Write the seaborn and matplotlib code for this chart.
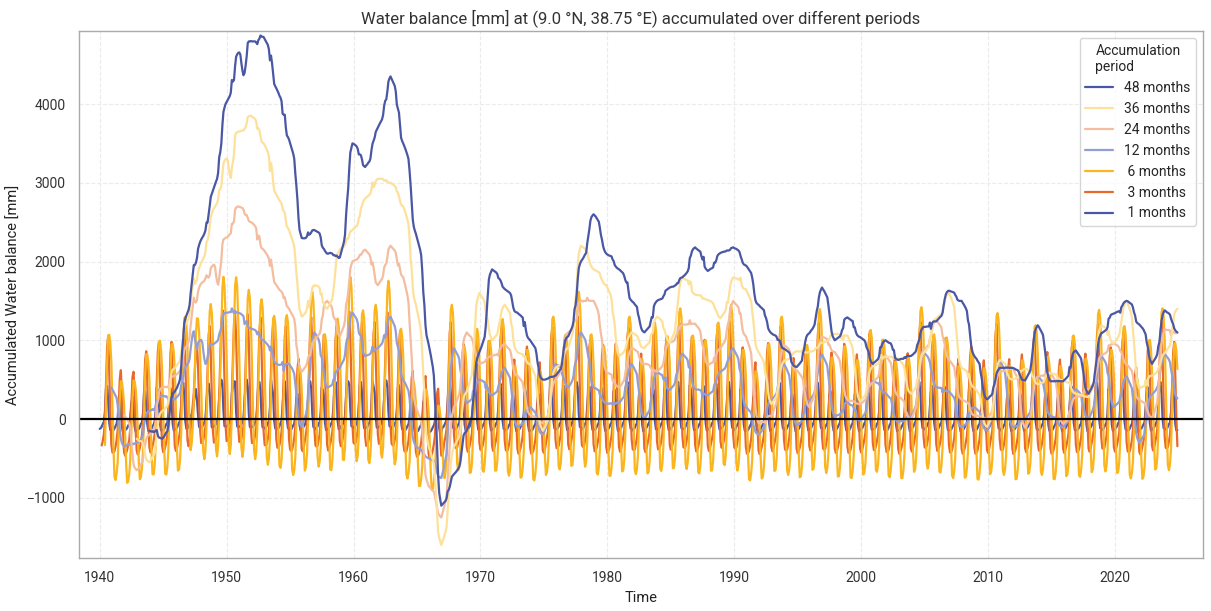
import numpy as np
import pandas as pd
import matplotlib
matplotlib.use('Agg')
import matplotlib.pyplot as plt
import matplotlib.dates as mdates
import seaborn as sns

# Monthly water balance (P - PET) in mm, one row per year, Jan..Dec
wb_1940s = [
    [-125, -115, -95, -60, -35, 100, 390, 420, 245, -50, -140, -135],
    [-150, -140, -120, -90, -60, 10, 230, 270, 120, -100, -165, -155],
    [-145, -130, -115, -80, -70, 40, 200, 290, 110, -90, -160, -150],
    [-140, -125, -100, -60, -45, 70, 330, 350, 180, -65, -150, -145],
    [-130, -120, -90, -70, -30, 110, 400, 350, 220, -55, -145, -140],
    [-135, -125, -95, -65, -45, 80, 380, 390, 210, -60, -145, -140],
    [-120, -110, -80, -50, -20, 170, 420, 460, 300, -30, -125, -115],
    [-105, -60, 40, 60, 70, 200, 330, 380, 240, 50, -100, -105],
    [-100, -95, -70, -40, 10, 210, 400, 450, 330, 60, -105, -100],
    [-95, -85, -60, -30, 30, 280, 440, 500, 445, 110, -90, -95],
]
wb_1950s = [
    [-95, -85, -55, -25, 25, 330, 400, 480, 475, 90, -95, -95],
    [-100, -90, -65, -35, 10, 230, 420, 500, 410, 70, -100, -100],
    [-105, -95, -70, -40, -5, 190, 450, 470, 370, 45, -105, -105],
    [-120, -110, -85, -55, -25, 140, 500, 400, 315, -20, -120, -120],
    [-125, -115, -90, -50, -20, 170, 390, 480, 310, -10, -115, -125],
    [-145, -135, -110, -80, -55, 40, 270, 320, 175, -80, -150, -150],
    [-110, -95, -70, -35, 15, 240, 420, 480, 390, 70, -100, -105],
    [-130, -115, -95, -60, -40, 90, 400, 370, 300, -45, -140, -135],
    [-125, -110, -85, -55, -25, 150, 390, 470, 315, -25, -130, -120],
    [-95, -85, -60, -30, 35, 290, 450, 480, 435, 115, -90, -95],
]
wb_1960s = [
    [-115, -105, -80, -50, -15, 170, 420, 470, 335, 0, -115, -115],
    [-110, -100, -75, -45, -5, 200, 480, 410, 340, 25, -110, -110],
    [-95, -85, -60, -30, 30, 270, 450, 490, 415, 100, -90, -95],
    [-125, -115, -90, -60, -35, 120, 400, 430, 270, -40, -130, -125],
    [-150, -140, -120, -90, -65, 20, 240, 260, 110, -95, -165, -155],
    [-160, -150, -125, -95, -75, 0, 210, 250, 85, -105, -170, -165],
    [-165, -155, -135, -105, -80, -30, 160, 190, 35, -115, -180, -170],
    [-110, -100, -75, -45, -5, 210, 420, 470, 335, 20, -110, -110],
    [-135, -125, -100, -70, -45, 80, 350, 380, 220, -65, -150, -140],
    [-125, -115, -90, -55, -35, 180, 330, 440, 270, -40, -135, -125],
]
wb_1970s = [
    [-130, -120, -95, -65, -40, 100, 370, 390, 230, -55, -145, -140],
    [-120, -110, -85, -55, -25, 160, 410, 450, 300, -25, -125, -125],
    [-145, -135, -110, -80, -55, 50, 280, 300, 175, -80, -155, -145],
    [-140, -125, -100, -70, -45, 70, 380, 340, 200, -70, -150, -140],
    [-150, -140, -115, -85, -60, 30, 260, 320, 140, -90, -160, -150],
    [-120, -110, -80, -50, -20, 170, 420, 450, 300, -20, -120, -120],
    [-130, -115, -95, -60, -40, 110, 380, 420, 250, -45, -140, -135],
    [-110, -95, -70, -35, 15, 230, 430, 470, 400, 70, -100, -105],
    [-130, -120, -90, -60, -40, 150, 350, 410, 250, -45, -140, -135],
    [-135, -125, -100, -70, -45, 90, 330, 390, 220, -65, -150, -140],
]
wb_1980s = [
    [-140, -125, -100, -65, -45, 70, 360, 370, 230, -60, -150, -145],
    [-120, -110, -80, -50, -20, 180, 400, 470, 290, -20, -120, -120],
    [-145, -130, -110, -75, -55, 60, 300, 340, 190, -75, -155, -145],
    [-120, -110, -85, -55, -30, 150, 390, 385, 360, -30, -130, -125],
    [-130, -120, -95, -60, -40, 100, 380, 420, 240, -50, -140, -135],
    [-115, -105, -80, -45, -10, 190, 420, 470, 330, 5, -115, -115],
    [-130, -120, -95, -60, -35, 100, 430, 370, 245, -50, -140, -135],
    [-135, -120, -95, -65, -40, 90, 350, 420, 235, -55, -145, -140],
    [-120, -110, -85, -55, -30, 160, 380, 450, 295, -30, -130, -125],
    [-110, -100, -75, -45, -5, 200, 420, 470, 340, 25, -110, -110],
]
wb_1990s = [
    [-140, -125, -100, -70, -45, 80, 380, 330, 200, -70, -150, -140],
    [-150, -140, -115, -85, -60, 30, 270, 300, 150, -90, -160, -150],
    [-135, -125, -95, -70, -40, 90, 350, 400, 215, -60, -150, -140],
    [-120, -110, -80, -50, -20, 160, 420, 460, 300, -20, -120, -120],
    [-145, -135, -110, -80, -55, 50, 290, 310, 175, -80, -155, -145],
    [-135, -125, -100, -65, -45, 130, 310, 390, 215, -60, -145, -140],
    [-115, -105, -80, -45, -10, 180, 430, 460, 330, 5, -115, -115],
    [-145, -130, -105, -75, -50, 60, 310, 350, 185, -75, -150, -145],
    [-135, -125, -100, -70, -45, 80, 340, 335, 280, -65, -145, -140],
    [-145, -135, -110, -75, -50, 50, 310, 330, 180, -75, -155, -145],
]
wb_2000s = [
    [-125, -115, -90, -55, -35, 120, 400, 430, 255, -40, -135, -130],
    [-130, -120, -95, -60, -40, 100, 420, 350, 230, -50, -140, -135],
    [-145, -135, -110, -75, -50, 50, 290, 330, 180, -75, -155, -145],
    [-140, -130, -105, -75, -50, 70, 300, 350, 185, -75, -155, -145],
    [-115, -105, -75, -45, -10, 190, 430, 470, 335, 5, -115, -115],
    [-130, -120, -90, -60, -40, 150, 340, 420, 250, -45, -140, -135],
    [-130, -120, -95, -60, -40, 90, 380, 410, 240, -45, -140, -140],
    [-145, -135, -110, -80, -55, 40, 280, 310, 175, -80, -155, -145],
    [-140, -125, -100, -70, -45, 70, 380, 330, 210, -70, -150, -140],
    [-150, -135, -115, -80, -60, 40, 270, 310, 165, -85, -160, -150],
]
wb_2010s = [
    [-120, -105, -80, -50, -20, 170, 420, 470, 320, -15, -120, -120],
    [-145, -135, -110, -80, -55, 45, 275, 315, 170, -80, -155, -145],
    [-145, -130, -110, -75, -50, 50, 340, 300, 180, -75, -150, -145],
    [-125, -110, -90, -55, -30, 140, 390, 450, 275, -35, -130, -130],
    [-140, -130, -105, -75, -50, 60, 320, 340, 190, -75, -150, -145],
    [-145, -135, -110, -80, -55, 50, 270, 320, 165, -80, -155, -145],
    [-130, -120, -95, -60, -35, 160, 330, 410, 245, -50, -140, -135],
    [-145, -130, -110, -75, -55, 60, 310, 330, 190, -75, -155, -145],
    [-115, -105, -80, -45, -10, 180, 420, 460, 330, 5, -115, -115],
    [-140, -125, -100, -70, -45, 80, 380, 330, 200, -70, -150, -140],
]
wb_2020s = [
    [-125, -110, -90, -55, -30, 140, 400, 430, 275, -35, -130, -130],
    [-150, -140, -120, -85, -65, 20, 250, 290, 115, -95, -165, -155],
    [-130, -120, -95, -65, -40, 150, 320, 400, 230, -55, -145, -140],
    [-115, -105, -80, -45, -10, 180, 430, 470, 330, 5, -115, -115],
    [-135, -125, -95, -65, -45, 90, 360, 400, 220, -60, -145, -140],
]

periods = [1, 3, 6, 12, 24, 36, 48]
colors = ['#4a57a5', '#e9682b', '#fbb51d', '#959ed2', '#f5bd9f', '#fde19b', '#4a57a5']

# build the monthly series and the accumulated (rolling sum) versions
monthly = np.concatenate([np.ravel(d) for d in (wb_1940s, wb_1950s, wb_1960s, wb_1970s,
                                                  wb_1980s, wb_1990s, wb_2000s, wb_2010s, wb_2020s)])
dates = pd.date_range('1940-01-01', periods=len(monthly), freq='MS')
wb = pd.Series(monthly, index=dates, dtype=float)

labels = [f'{p:2d} months' for p in periods]
frames = []
for p, lab in zip(periods, labels):
    frames.append(pd.DataFrame({'time': dates, 'value': wb.rolling(p).sum().values, 'period': lab}))
df = pd.concat(frames, ignore_index=True).dropna()

sns.set_theme(style='whitegrid')
plt.rcParams['font.family'] = ['Roboto', 'DejaVu Sans']

fig, ax = plt.subplots(figsize=(12.11, 6.11), dpi=100)
fig.subplots_adjust(left=0.065, right=0.9934, top=0.949, bottom=0.0867)

sns.lineplot(data=df, x='time', y='value', hue='period', hue_order=labels,
             palette=dict(zip(labels, colors)), estimator=None, lw=1.6, ax=ax)
ax.axhline(0, color='black', lw=1.6)

leg = ax.get_legend()
handles = list(leg.legend_handles)
texts = [t.get_text() for t in leg.get_texts()]
ax.legend(handles[::-1], texts[::-1], title='Accumulation\nperiod', loc='upper right',
          fontsize=10, title_fontsize=10, frameon=True, edgecolor='#cccccc')

ax.set_xlim(pd.Timestamp('1938-05-07'), pd.Timestamp('2026-12-08'))
ax.set_ylim(-1765, 4925)
ax.xaxis.set_major_locator(mdates.YearLocator(10))
ax.xaxis.set_major_formatter(mdates.DateFormatter('%Y'))
ax.grid(True, linestyle='--', color='#ebebeb', lw=0.8)
for sp in ax.spines.values():
    sp.set_color('#aaaaaa')
    sp.set_linewidth(1.0)
ax.tick_params(labelsize=10, colors='#333333')

ax.set_title('Water balance [mm] at (9.0 °N, 38.75 °E) accumulated over different periods',
             fontsize=12, color='#333333')
ax.set_xlabel('Time', fontsize=10.5, color='#222222')
ax.set_ylabel('Accumulated Water balance [mm]', fontsize=10.5, color='#222222')

plt.savefig('out.png', dpi=100)
